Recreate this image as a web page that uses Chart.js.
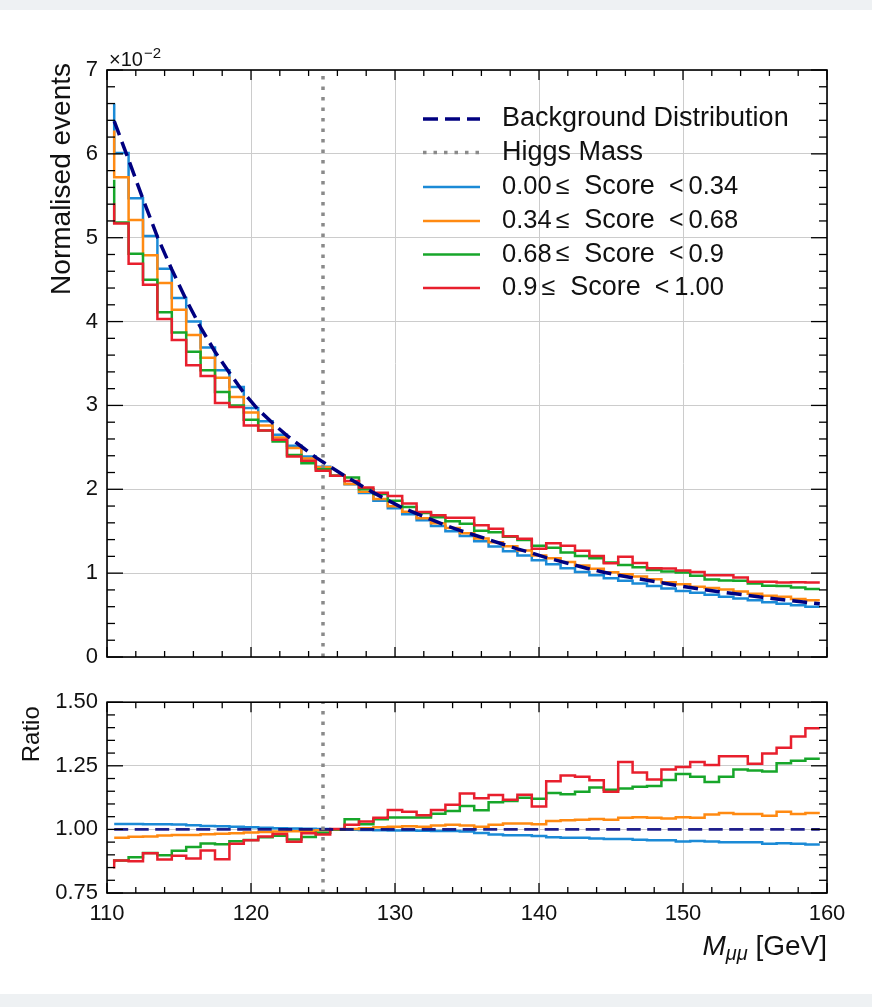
<!DOCTYPE html>
<html><head><meta charset="utf-8">
<script src="https://cdn.jsdelivr.net/npm/chart.js@4.4.1/dist/chart.umd.min.js"></script>
<style>
html,body{margin:0;padding:0;background:#eef1f3;width:872px;height:1007px;overflow:hidden;}
#page{position:absolute;left:0;top:10px;width:872px;height:984px;background:#fff;}
canvas{position:absolute;left:0;}
</style></head><body>
<div id="page"></div>
<canvas id="top" width="872" height="680" style="top:0px"></canvas>
<canvas id="bot" width="872" height="327" style="top:680px"></canvas>
<script>
// ---------------- data ----------------
const massBins = [110.5,111.5,112.5,113.5,114.5,115.5,116.5,117.5,118.5,119.5,
  120.5,121.5,122.5,123.5,124.5,125.5,126.5,127.5,128.5,129.5,
  130.5,131.5,132.5,133.5,134.5,135.5,136.5,137.5,138.5,139.5,
  140.5,141.5,142.5,143.5,144.5,145.5,146.5,147.5,148.5,149.5,
  150.5,151.5,152.5,153.5,154.5,155.5,156.5,157.5,158.5,159.5];

// normalised events, in units of 1e-2
const bgCurve = [6.39,5.93,5.46,5.01,4.62,4.26,3.93,3.64,3.39,3.15,
  2.95,2.79,2.64,2.51,2.38,2.27,2.16,2.06,1.96,1.87,
  1.78,1.71,1.64,1.57,1.51,1.455,1.40,1.345,1.29,1.24,
  1.185,1.14,1.095,1.05,1.01,0.975,0.945,0.915,0.885,0.855,
  0.828,0.802,0.778,0.756,0.735,0.712,0.692,0.672,0.653,0.635];
const score0Top = [6.60,6.01,5.47,5.02,4.63,4.28,4.00,3.69,3.42,3.22,
  2.97,2.81,2.65,2.52,2.39,2.27,2.16,2.06,1.956,1.864,
  1.773,1.703,1.632,1.561,1.501,1.443,1.38,1.318,1.26,1.211,
  1.154,1.105,1.059,1.015,0.974,0.938,0.909,0.877,0.847,0.818,
  0.788,0.765,0.741,0.717,0.698,0.676,0.653,0.636,0.616,0.598];
const score1Top = [6.28,5.72,5.21,4.79,4.46,4.14,3.84,3.57,3.33,3.10,
  2.915,2.762,2.619,2.492,2.368,2.263,2.16,2.064,1.97,1.885,
  1.798,1.731,1.656,1.594,1.537,1.477,1.414,1.369,1.32,1.269,
  1.209,1.178,1.134,1.09,1.051,1.012,0.988,0.959,0.926,0.892,
  0.868,0.839,0.824,0.804,0.78,0.755,0.729,0.718,0.693,0.676];
const score2Top = [5.69,5.18,4.81,4.50,4.11,3.87,3.64,3.42,3.16,3.00,
  2.83,2.70,2.57,2.41,2.31,2.24,2.16,2.14,2.00,1.945,
  1.864,1.79,1.717,1.667,1.619,1.589,1.505,1.489,1.434,1.394,
  1.327,1.303,1.246,1.205,1.177,1.127,1.097,1.069,1.036,1.021,
  1.008,0.968,0.923,0.912,0.908,0.877,0.85,0.847,0.829,0.812];
const score3Top = [5.41,5.17,4.69,4.44,4.03,3.78,3.48,3.35,3.03,2.98,
  2.76,2.70,2.59,2.39,2.34,2.22,2.16,2.10,2.02,1.96,
  1.92,1.83,1.73,1.69,1.66,1.66,1.57,1.53,1.44,1.41,
  1.29,1.355,1.327,1.267,1.205,1.119,1.195,1.12,1.058,1.056,
  1.031,1.015,0.975,0.974,0.947,0.896,0.898,0.888,0.891,0.888];

// ratio to background
const bgRatio = [1,1,1,1,1,1,1,1,1,1, 1,1,1,1,1,1,1,1,1,1, 1,1,1,1,1,1,1,1,1,1,
  1,1,1,1,1,1,1,1,1,1, 1,1,1,1,1,1,1,1,1,1];
const score0Ratio = [1.021,1.021,1.021,1.02,1.02,1.019,1.016,1.013,1.012,1.01,
  1.008,1.006,1.005,1.004,1.003,1.002,1.0,0.999,0.998,0.997,
  0.996,0.996,0.995,0.994,0.994,0.992,0.986,0.98,0.977,0.977,
  0.974,0.969,0.967,0.967,0.964,0.962,0.962,0.959,0.957,0.957,
  0.952,0.954,0.952,0.949,0.949,0.949,0.944,0.946,0.944,0.941];
const score1Ratio = [0.967,0.967,0.971,0.972,0.976,0.978,0.978,0.981,0.983,0.985,
  0.988,0.99,0.992,0.993,0.995,0.997,1.0,1.002,1.005,1.008,
  1.01,1.012,1.01,1.015,1.018,1.015,1.01,1.018,1.023,1.023,
  1.02,1.033,1.036,1.038,1.041,1.038,1.046,1.048,1.046,1.043,
  1.048,1.046,1.059,1.064,1.061,1.061,1.054,1.069,1.061,1.064];
const score2Ratio = [0.87,0.878,0.891,0.907,0.898,0.916,0.931,0.945,0.942,0.953,
  0.958,0.969,0.975,0.96,0.97,0.987,1.0,1.04,1.02,1.04,
  1.047,1.047,1.047,1.062,1.072,1.092,1.075,1.107,1.112,1.124,
  1.12,1.143,1.138,1.148,1.165,1.156,1.161,1.168,1.171,1.194,
  1.218,1.207,1.186,1.207,1.235,1.232,1.228,1.26,1.27,1.278];
const score3Ratio = [0.846,0.878,0.875,0.906,0.882,0.896,0.886,0.917,0.883,0.944,
  0.957,0.972,0.982,0.951,0.985,0.98,1.002,1.018,1.031,1.046,
  1.076,1.069,1.056,1.076,1.097,1.141,1.122,1.135,1.117,1.136,
  1.09,1.189,1.212,1.207,1.193,1.148,1.265,1.224,1.196,1.235,
  1.245,1.265,1.253,1.288,1.288,1.258,1.298,1.321,1.365,1.398];

const higgsMass = 125;
const scoreLabels = ['0.00 \u2264  Score  < 0.34','0.34 \u2264  Score  < 0.68','0.68 \u2264  Score  < 0.9','0.9 \u2264  Score  < 1.00'];
const massTicks = [110,120,130,140,150,160];
const topTicks = [0,1,2,3,4,5,6,7];
const ratioTicks = [0.75,1.00,1.25,1.50];
const ratioTickLabels = ['0.75','1.00','1.25','1.50'];

// ---------------- style ----------------
const FONT = '"Liberation Sans", Arial, Helvetica, sans-serif';
const COLORS = ['#1b8ad6','#ff8a12','#17a62a','#e81f2d'];
const NAVY = '#000080';
const GRID = '#cccccc';

function pts(ys){ return massBins.map((x,i)=>({x:x, y:ys[i]})); }
function setTicks(arr){ return s => { s.ticks = arr.map(v=>({value:v})); }; }

const mplPlugin = {
  id:'mpl',
  afterDraw(chart, args, o){
    const ctx = chart.ctx, a = chart.chartArea, x = chart.scales.x, y = chart.scales.y;
    ctx.save();
    ctx.strokeStyle = '#000'; ctx.lineWidth = 1.3; ctx.lineCap = 'butt';
    const line = (x1,y1,x2,y2)=>{ctx.beginPath();ctx.moveTo(x1,y1);ctx.lineTo(x2,y2);ctx.stroke();};
    for (let v = x.min; v <= x.max + 1e-9; v += o.xMinor){
      const px = x.getPixelForValue(v);
      const major = Math.abs((v - x.min) % o.xMajor) < 1e-6;
      const L = major ? o.xMajLen : o.xMinLen;
      line(px, a.bottom, px, a.bottom - L);
      line(px, a.top, px, a.top + L);
    }
    for (let v = y.min; v <= y.max + 1e-9; v += o.yMinor){
      const py = y.getPixelForValue(v);
      const major = Math.abs(((v - y.min) / o.yMajor) - Math.round((v - y.min) / o.yMajor)) < 1e-6;
      const L = major ? o.yMajLen : o.yMinLen;
      line(a.left, py, a.left + L, py);
      line(a.right, py, a.right - L, py);
    }
    ctx.lineWidth = 1.6;
    ctx.strokeRect(a.left, a.top, a.right - a.left, a.bottom - a.top);
    ctx.restore();
    if (o.extra) o.extra(chart);
  }
};

function commonLine(label, data, color, order){
  return {label, data, borderColor: color, borderWidth: 2.5, stepped: 'after',
    pointRadius: 0, fill: false, order, borderJoinStyle: 'miter'};
}

// ---------------- top chart ----------------
const topDatasets = [
  {label:'Background Distribution', data: pts(bgCurve), borderColor: NAVY, borderWidth: 3.5,
   borderDash:[15,7], pointRadius:0, fill:false, order:1},
  {label:'Higgs Mass', data:[{x:higgsMass,y:0},{x:higgsMass,y:7}], borderColor:'#8a8a8a',
   borderWidth:3.5, borderDash:[3.5,7], pointRadius:0, fill:false, order:0},
  commonLine(scoreLabels[0], pts(score0Top), COLORS[0], 5),
  commonLine(scoreLabels[1], pts(score1Top), COLORS[1], 4),
  commonLine(scoreLabels[2], pts(score2Top), COLORS[2], 3),
  commonLine(scoreLabels[3], pts(score3Top), COLORS[3], 2)
];

// draws "a ≤ Score < b" with math-like spacing
function drawScoreLabel(ctx, label, x0, yy){
  const t = label.split(/\s+/);
  const numFont = '25.5px ' + FONT, relFont = '25px ' + FONT, txtFont = '27px ' + FONT;
  let xx = x0;
  ctx.font = numFont; ctx.fillText(t[0], xx, yy); xx += ctx.measureText(t[0]).width + 4;
  ctx.font = relFont; ctx.fillText(t[1], xx, yy); xx += ctx.measureText(t[1]).width + 15;
  ctx.font = txtFont; ctx.fillText(t[2], xx, yy); xx += ctx.measureText(t[2]).width + 14;
  ctx.font = relFont; ctx.fillText(t[3], xx, yy); xx += ctx.measureText(t[3]).width + 5;
  ctx.font = numFont; ctx.fillText(t[4], xx, yy);
}

function drawTopExtras(chart){
  const ctx = chart.ctx;
  ctx.save();
  // legend
  const rows = [119, 152.5, 187, 221, 254.5, 288];
  chart.data.datasets.forEach((ds, i) => {
    const yy = rows[i];
    ctx.strokeStyle = ds.borderColor; ctx.lineWidth = ds.borderWidth;
    ctx.setLineDash(ds.borderDash || []);
    ctx.beginPath(); ctx.moveTo(423, yy); ctx.lineTo(480, yy); ctx.stroke();
    ctx.setLineDash([]);
    ctx.fillStyle = '#111';
    ctx.textBaseline = 'middle'; ctx.textAlign = 'left';
    if (scoreLabels.includes(ds.label)) {
      drawScoreLabel(ctx, ds.label, 502, yy);
    } else {
      ctx.font = '27px ' + FONT;
      ctx.fillText(ds.label, 502, yy);
    }
  });
  // y title
  ctx.fillStyle = '#111';
  ctx.font = '28px ' + FONT;
  ctx.translate(62, 63); ctx.rotate(-Math.PI/2);
  ctx.textAlign = 'right'; ctx.textBaseline = 'middle';
  ctx.fillText('Normalised events', 0, 0);
  ctx.restore();
  // offset text
  ctx.save();
  ctx.fillStyle = '#111'; ctx.textBaseline = 'alphabetic'; ctx.textAlign = 'left';
  ctx.font = '20px ' + FONT;
  ctx.fillText('\u00d710', 109, 66);
  const w = ctx.measureText('\u00d710').width;
  ctx.font = '15px ' + FONT;
  ctx.fillText('\u22122', 109 + w + 1, 58);
  ctx.restore();
}

new Chart(document.getElementById('top'), {
  type:'line',
  data:{datasets: topDatasets},
  options:{
    responsive:false, animation:false, events:[],
    layout:{padding:{left:40, right:45, top:70, bottom:23}},
    plugins:{legend:{display:false}, tooltip:{enabled:false},
      mpl:{xMinor:2, xMajor:10, yMinor:0.2, yMajor:1,
           xMajLen:10, xMinLen:6, yMajLen:16, yMinLen:8, extra: drawTopExtras}},
    scales:{
      x:{type:'linear', min:110, max:160, afterBuildTicks: setTicks(massTicks),
         ticks:{display:false}, grid:{color:GRID, lineWidth:1, drawTicks:false},
         border:{display:false}, afterFit: s => { s.height = 0; }},
      y:{type:'linear', min:0, max:7, afterBuildTicks: setTicks(topTicks),
         ticks:{font:{family:FONT, size:22}, color:'#111', padding:9, callback: v => String(v)},
         grid:{color:GRID, lineWidth:1, drawTicks:false},
         border:{display:false}, afterFit: s => { s.width = 67; }}
    }
  },
  plugins:[mplPlugin]
});

// ---------------- ratio chart ----------------
const botDatasets = [
  {label:'bg', data: pts(bgRatio), borderColor:'rgba(10,10,130,0.9)', borderWidth:2.8,
   borderDash:[14,6.5], pointRadius:0, fill:false, order:1},
  {label:'higgs', data:[{x:higgsMass,y:0.75},{x:higgsMass,y:1.5}], borderColor:'#8a8a8a',
   borderWidth:3.5, borderDash:[3.5,7], pointRadius:0, fill:false, order:0},
  commonLine(scoreLabels[0], pts(score0Ratio), COLORS[0], 5),
  commonLine(scoreLabels[1], pts(score1Ratio), COLORS[1], 4),
  commonLine(scoreLabels[2], pts(score2Ratio), COLORS[2], 3),
  commonLine(scoreLabels[3], pts(score3Ratio), COLORS[3], 2)
];

function drawBotExtras(chart){
  const ctx = chart.ctx, a = chart.chartArea;
  ctx.save();
  ctx.fillStyle = '#111';
  ctx.font = '24px ' + FONT;
  ctx.translate(32, a.top + 4); ctx.rotate(-Math.PI/2);
  ctx.textAlign = 'right'; ctx.textBaseline = 'middle';
  ctx.fillText('Ratio', 0, 0);
  ctx.restore();
  // x title: M_{mu mu} [GeV]
  ctx.save();
  ctx.fillStyle = '#111'; ctx.textBaseline = 'alphabetic'; ctx.textAlign = 'left';
  const base = 275;
  ctx.font = '28px ' + FONT; const wG = ctx.measureText(' [GeV]').width;
  ctx.font = 'italic 20px ' + FONT; const wS = ctx.measureText('\u03bc\u03bc').width;
  ctx.font = 'italic 28px ' + FONT; const wM = ctx.measureText('M').width;
  let xx = a.right - wG - wS - wM;
  ctx.fillText('M', xx, base); xx += wM;
  ctx.font = 'italic 20px ' + FONT; ctx.fillText('\u03bc\u03bc', xx, base + 5); xx += wS;
  ctx.font = '28px ' + FONT; ctx.fillText(' [GeV]', xx, base);
  ctx.restore();
}

new Chart(document.getElementById('bot'), {
  type:'line',
  data:{datasets: botDatasets},
  options:{
    responsive:false, animation:false, events:[],
    layout:{padding:{left:40, right:45, top:17, bottom:64}},
    plugins:{legend:{display:false}, tooltip:{enabled:false},
      mpl:{xMinor:2, xMajor:10, yMinor:0.05, yMajor:0.25,
           xMajLen:10, xMinLen:6, yMajLen:16, yMinLen:8, extra: drawBotExtras}},
    scales:{
      x:{type:'linear', min:110, max:160, afterBuildTicks: setTicks(massTicks),
         ticks:{font:{family:FONT, size:22}, color:'#111', padding:8, maxRotation:0,
                callback: v => String(v)},
         grid:{color:GRID, lineWidth:1, drawTicks:false},
         border:{display:false}, afterFit: s => { s.height = 50; }},
      y:{type:'linear', min:0.75, max:1.5, afterBuildTicks: setTicks(ratioTicks),
         ticks:{font:{family:FONT, size:22}, color:'#111', padding:9,
                callback: (v) => ratioTickLabels[ratioTicks.indexOf(v)] ?? v.toFixed(2)},
         grid:{color:GRID, lineWidth:1, drawTicks:false},
         border:{display:false}, afterFit: s => { s.width = 67; }}
    }
  },
  plugins:[mplPlugin]
});
</script>
</body></html>
